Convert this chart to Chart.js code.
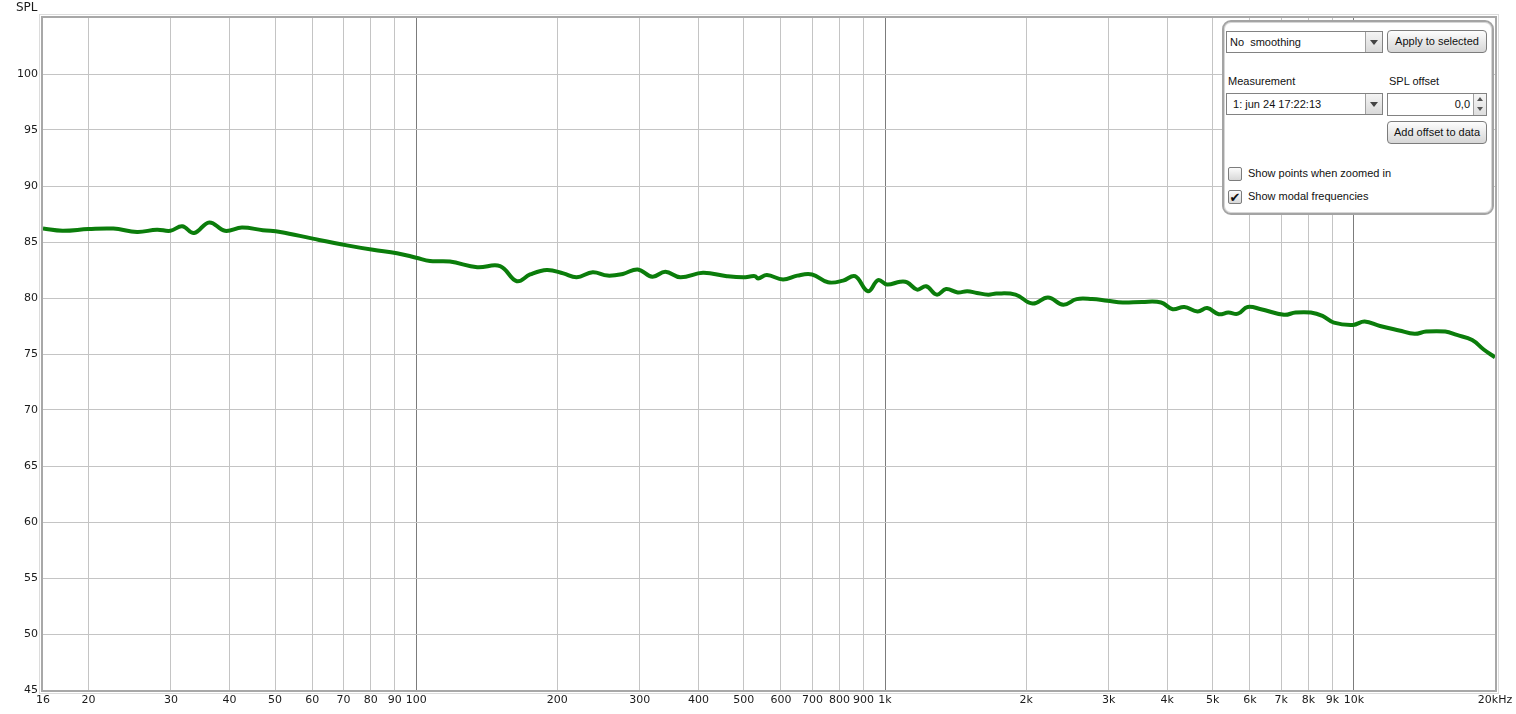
<!DOCTYPE html>
<html>
<head>
<meta charset="utf-8">
<script src="https://cdn.jsdelivr.net/npm/chart.js@4/dist/chart.umd.min.js"></script>
<style>
  html, body { margin: 0; padding: 0; background: #fff; }
  body { width: 1516px; height: 714px; position: relative; overflow: hidden;
         font-family: "Liberation Sans", Arial, sans-serif; font-size: 11px; color: #111; }
  #wrap { position: absolute; left: 0; top: 0; width: 1516px; height: 714px; }
  .abs { position: absolute; box-sizing: border-box; }
  .panel { left: 1222px; top: 20px; width: 272px; height: 195px; background: #fff;
           border: 2px solid #a4a4a4; border-radius: 9px; box-shadow: inset 0 0 0 1px #d6d6d6; }
  .combo { background: #fff; border: 1px solid #828282; height: 22px; line-height: 20px;
           padding-left: 3px; white-space: pre; }
  .combo .arr { position: absolute; right: 0; top: 0; width: 16px; height: 20px;
                border-left: 1px solid #a0a0a0; background: linear-gradient(#f4f4f4, #d9d9d9); }
  .combo .arr:after { content: ""; position: absolute; left: 4px; top: 8px;
                      border-left: 4px solid transparent; border-right: 4px solid transparent;
                      border-top: 5px solid #444; }
  .btn { border: 1px solid #7c7c7c; border-radius: 4px; height: 23px; line-height: 21px;
         text-align: center; background: linear-gradient(#fdfdfd, #d6d6d6); }
  .spin { background: #fff; border: 1px solid #828282; height: 23px; line-height: 21px;
          text-align: right; padding-right: 16px; }
  .spin .ud { position: absolute; right: 0; top: 0; width: 12px; height: 21px;
              border-left: 1px solid #a0a0a0; background: linear-gradient(#f6f6f6, #dedede); }
  .spin .ud:before { content: ""; position: absolute; left: 3px; top: 3px;
                     border-left: 3px solid transparent; border-right: 3px solid transparent;
                     border-bottom: 4px solid #555; }
  .spin .ud:after { content: ""; position: absolute; left: 3px; top: 13px;
                    border-left: 3px solid transparent; border-right: 3px solid transparent;
                    border-top: 4px solid #555; }
  .chk { width: 14px; height: 14px; border: 1px solid #7c7c7c; border-radius: 2px;
         background: linear-gradient(#fbfbfb, #d8d8d8); font-size: 13px; line-height: 13px;
         text-align: center; font-family: "DejaVu Sans", sans-serif; }
  .lbl { white-space: nowrap; }
</style>
</head>
<body>
<div id="wrap"><canvas id="chart" width="1516" height="714"></canvas></div>

<div class="abs panel"></div>
<div class="abs combo" style="left:1226px; top:31px; width:157px;">No  smoothing<div class="arr"></div></div>
<div class="abs btn" style="left:1387px; top:30px; width:100px;">Apply to selected</div>
<div class="abs lbl" style="left:1228px; top:75px;">Measurement</div>
<div class="abs lbl" style="left:1389px; top:75px;">SPL offset</div>
<div class="abs combo" style="left:1226px; top:93px; width:157px;"> 1: jun 24 17:22:13<div class="arr"></div></div>
<div class="abs spin" style="left:1387px; top:93px; width:100px;">0,0<div class="ud"></div></div>
<div class="abs btn" style="left:1387px; top:121px; width:100px;">Add offset to data</div>
<div class="abs chk" style="left:1228px; top:167px;"></div>
<div class="abs lbl" style="left:1248px; top:167px;">Show points when zoomed in</div>
<div class="abs chk" style="left:1228px; top:190px;">✔</div>
<div class="abs lbl" style="left:1248px; top:190px;">Show modal frequencies</div>

<script>
// frequency (Hz) / SPL (dB)
const FREQS = [
  16, 17.6, 20, 22.6, 25.4, 28, 29.9, 31.7, 33.6, 36.2, 39.1, 42.5, 47.1, 51.3, 60.2, 71.2,
  80.9, 91, 100, 107, 118, 135, 151, 164, 175, 190, 206, 220, 238, 256, 276, 297,
  319, 340, 366, 409, 460, 498, 528, 536, 560, 606, 650, 699, 756, 814, 863, 920,
  967, 1010, 1077, 1115, 1171, 1224, 1289, 1350, 1429, 1498, 1570, 1661, 1727, 1898,
  2064, 2226, 2400, 2563, 2765, 2981, 3214, 3533, 3880, 4107, 4349, 4642, 4867, 5149,
  5398, 5659, 5933, 6336, 7097, 7510, 8096, 8571, 9069, 9965, 10544, 11370, 12493,
  13474, 14259, 15664, 16578, 17880, 18918, 20000,
];
const SPL = [
  86.2, 86.0, 86.15, 86.2, 85.9, 86.1, 86.0, 86.4, 85.8, 86.75, 86.0, 86.3, 86.05, 85.9, 85.3, 84.7,
  84.3, 84.0, 83.6, 83.3, 83.25, 82.75, 82.85, 81.5, 82.1, 82.5, 82.2, 81.85, 82.3, 82.0, 82.15, 82.55,
  81.9, 82.35, 81.85, 82.25, 81.95, 81.85, 81.95, 81.75, 82.05, 81.65, 82.0, 82.1, 81.4, 81.55, 81.95, 80.6,
  81.6, 81.2, 81.45, 81.4, 80.75, 81.05, 80.3, 80.8, 80.5, 80.6, 80.45, 80.3, 80.4, 80.3,
  79.5, 80.05, 79.4, 79.9, 79.9, 79.75, 79.6, 79.65, 79.6, 79.0, 79.2, 78.8, 79.1, 78.55,
  78.7, 78.6, 79.2, 79.0, 78.5, 78.7, 78.7, 78.4, 77.8, 77.6, 77.9, 77.5, 77.1,
  76.8, 77.0, 77.0, 76.7, 76.25, 75.4, 74.7,
];

const FREQ_TICKS = [16, 20, 30, 40, 50, 60, 70, 80, 90, 100, 200, 300, 400, 500, 600, 700, 800, 900,
  1000, 2000, 3000, 4000, 5000, 6000, 7000, 8000, 9000, 10000, 20000];
const FREQ_LABELS = ['16', '20', '30', '40', '50', '60', '70', '80', '90', '100', '200', '300', '400',
  '500', '600', '700', '800', '900', '1k', '2k', '3k', '4k', '5k', '6k', '7k', '8k', '9k', '10k', '20kHz'];
const DECADES = [100, 1000, 10000];

Chart.defaults.font.family = '"DejaVu Sans", sans-serif';
Chart.defaults.font.size = 11;
Chart.defaults.color = '#1a1a1a';

// plot frame with the slightly shaded inset look + axis title
const frame = {
  id: 'frame',
  afterDraw(chart) {
    const {ctx, chartArea: a} = chart;
    ctx.save();
    ctx.strokeStyle = '#dcdcdc';
    ctx.lineWidth = 1;
    ctx.strokeRect(a.left - 3.5, a.top - 3.5, a.right - a.left + 7, a.bottom - a.top + 7);
    ctx.strokeStyle = '#a8a8a8';
    ctx.lineWidth = 2;
    ctx.strokeRect(a.left - 1, a.top - 1, a.right - a.left + 2, a.bottom - a.top + 2);
    ctx.fillStyle = '#1a1a1a';
    ctx.font = '12px "DejaVu Sans", sans-serif';
    ctx.textBaseline = 'middle';
    ctx.fillText('SPL', 16, 8);
    ctx.restore();
  },
};

const ctx = document.getElementById('chart').getContext('2d');
new Chart(ctx, {
  type: 'line',
  data: {
    datasets: [{
      data: FREQS.map((f, i) => ({x: f, y: SPL[i]})),
      borderColor: '#0b7d0b',
      borderWidth: 4,
      pointRadius: 0,
      tension: 0.4,
      fill: false,
    }],
  },
  options: {
    responsive: false,
    animation: false,
    events: [],
    layout: {padding: {top: 18, right: 21, left: 0, bottom: 0}},
    plugins: {legend: {display: false}, tooltip: {enabled: false}},
    scales: {
      x: {
        type: 'logarithmic',
        min: 16,
        max: 20000,
        afterBuildTicks: (scale) => {
          scale.ticks = FREQ_TICKS.map((v) => ({value: v}));
        },
        afterFit: (scale) => {
          scale.height = 24;
          scale.paddingLeft = 0;
          scale.paddingRight = 0;
        },
        ticks: {
          autoSkip: false,
          maxRotation: 0,
          padding: 4,
          callback: (v) => FREQ_LABELS[FREQ_TICKS.indexOf(v)],
        },
        grid: {
          drawTicks: false,
          lineWidth: 1,
          color: (c) => {
            const v = c.tick && c.tick.value;
            if (v === 16 || v === 20000) return 'rgba(0,0,0,0)';
            return DECADES.includes(v) ? '#7c7c7c' : '#c4c4c4';
          },
        },
        border: {display: false},
      },
      y: {
        min: 45,
        max: 105,
        afterBuildTicks: (scale) => {
          const t = [];
          for (let v = 45; v <= 105; v += 5) t.push({value: v});
          scale.ticks = t;
        },
        afterFit: (scale) => {
          scale.width = 43;
        },
        ticks: {
          padding: 5,
          callback: (v) => (v === 105 ? '' : String(v)),
        },
        grid: {
          drawTicks: false,
          color: (c) => (c.tick && (c.tick.value === 45 || c.tick.value === 105) ? 'rgba(0,0,0,0)' : '#c4c4c4'),
        },
        border: {display: false},
      },
    },
  },
  plugins: [frame],
});
</script>
</body>
</html>
